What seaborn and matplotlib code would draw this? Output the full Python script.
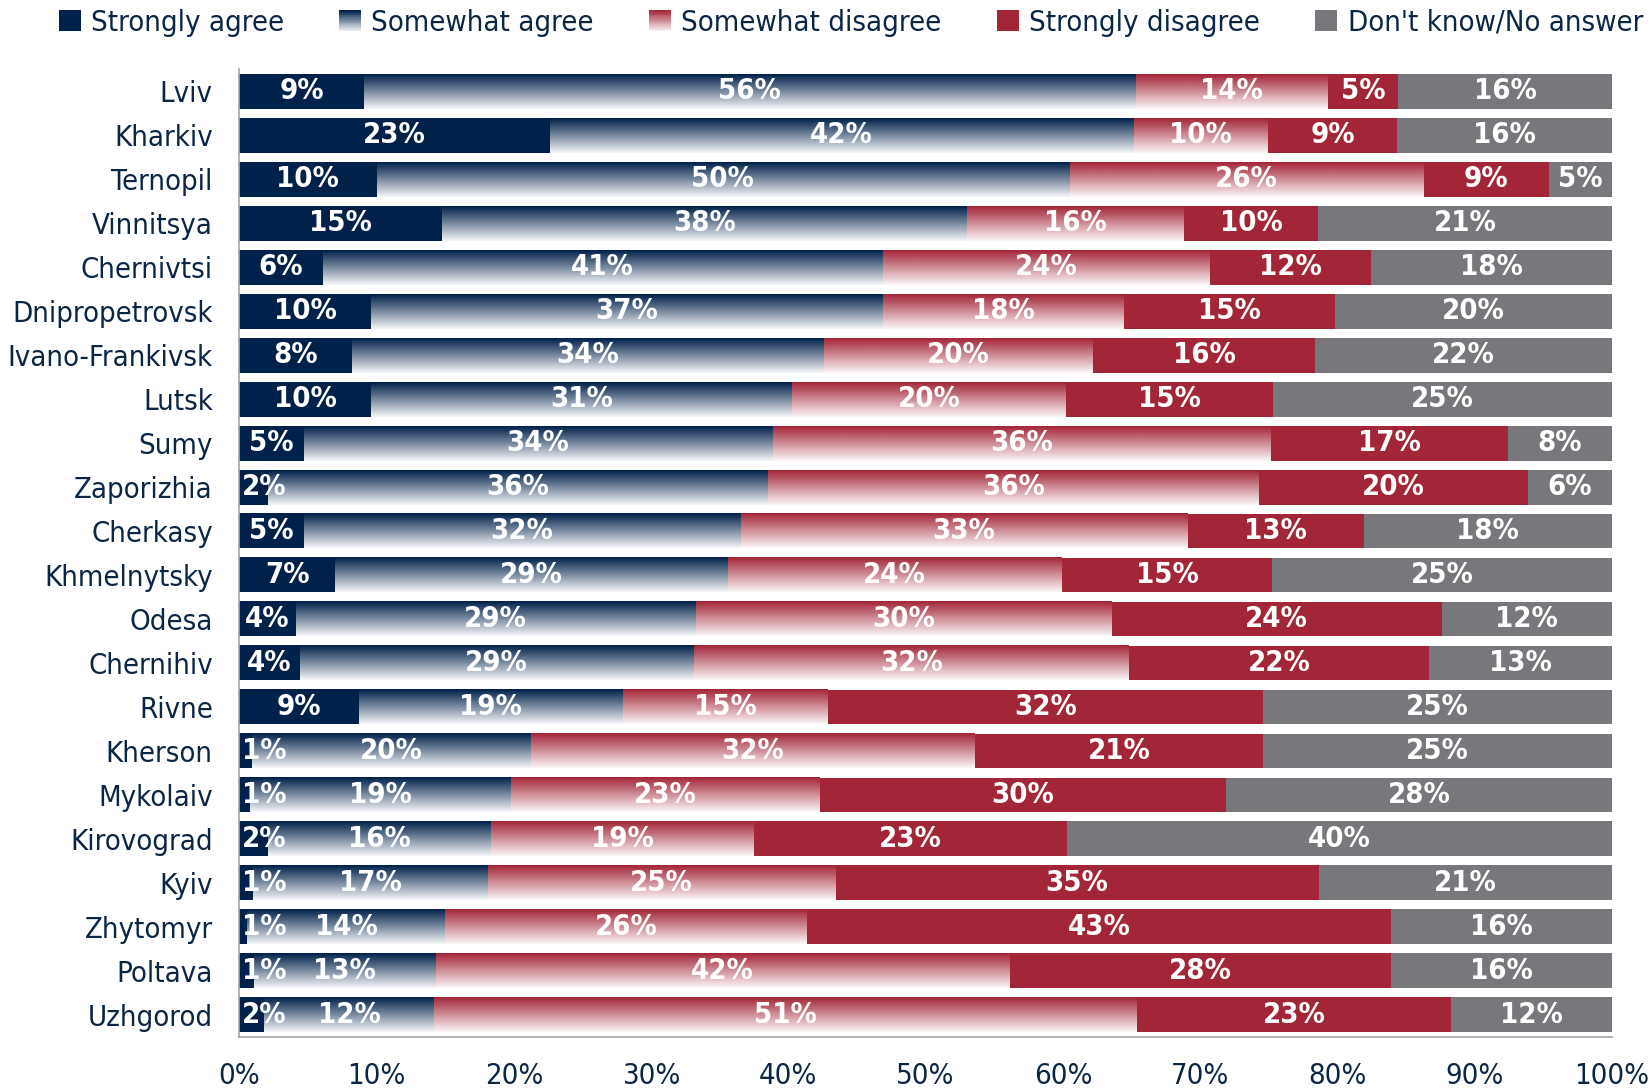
import numpy as np
import matplotlib
matplotlib.use('Agg')
import matplotlib.pyplot as plt
import seaborn as sns
from matplotlib.patches import Rectangle, Patch
from matplotlib.legend_handler import HandlerBase
from matplotlib.colors import to_rgb

# ---- data (share of respondents, %) ----
cities = ['Lviv', 'Kharkiv', 'Ternopil', 'Vinnitsya', 'Chernivtsi', 'Dnipropetrovsk',
          'Ivano-Frankivsk', 'Lutsk', 'Sumy', 'Zaporizhia', 'Cherkasy', 'Khmelnytsky',
          'Odesa', 'Chernihiv', 'Rivne', 'Kherson', 'Mykolaiv', 'Kirovograd', 'Kyiv',
          'Zhytomyr', 'Poltava', 'Uzhgorod']
strongly_agree = [9.1, 22.6, 10.0, 14.8, 6.1, 9.6, 8.2, 9.6, 4.7, 2.1, 4.7, 7.0,
                  4.1, 4.4, 8.7, 0.9, 0.8, 2.1, 1.0, 0.6, 1.1, 1.8]
somewhat_agree = [56.2, 42.4, 50.4, 38.2, 40.8, 37.3, 34.4, 30.7, 34.2, 36.4, 31.8, 28.6,
                  29.1, 28.7, 19.2, 20.3, 19.0, 16.2, 17.1, 14.4, 13.2, 12.4]
somewhat_disagree = [14.0, 9.8, 25.8, 15.8, 23.9, 17.6, 19.6, 20.0, 36.3, 35.8, 32.6, 24.4,
                     30.3, 31.7, 15.0, 32.4, 22.6, 19.2, 25.4, 26.4, 41.8, 51.2]
strongly_disagree = [5.1, 9.4, 9.1, 9.8, 11.7, 15.4, 16.2, 15.1, 17.3, 19.6, 12.8, 15.3,
                     24.0, 21.9, 31.7, 21.0, 29.6, 22.8, 35.2, 42.6, 27.8, 22.9]
dont_know = [15.6, 15.6, 4.6, 21.4, 17.6, 20.2, 21.6, 24.7, 7.6, 6.1, 18.1, 24.8,
             12.4, 13.3, 25.4, 25.4, 28.2, 39.7, 21.4, 16.1, 16.1, 11.7]

series_names = ['Strongly agree', 'Somewhat agree', 'Somewhat disagree',
                'Strongly disagree', "Don't know/No answer"]
series_colors = ['#00214a', '#00214a', '#a32638', '#a32638', '#77787b']
gradient = [False, True, True, False, False]

TEXT = '#0b2545'
FS = 21

sns.set_style('white')
plt.rcParams['font.family'] = ['DejaVu Sans']
plt.rcParams['font.stretch'] = 'condensed'

values = np.array([strongly_agree, somewhat_agree, somewhat_disagree,
                   strongly_disagree, dont_know])
values = values / values.sum(axis=0) * 100
cum = np.cumsum(values, axis=0)


def grad_img(color, n=64):
    c = np.array(to_rgb(color))
    t = np.linspace(0, 0.96, n)[:, None]
    rgb = c * (1 - t) + np.ones(3) * t
    return rgb[:, None, :]


fig = plt.figure(figsize=(16.52, 10.91), dpi=100)
ax = fig.add_axes([0.1448, 0.0498, 0.831, 0.8865])

# stacked bars drawn as overlaid cumulative bars, right-most layer first
for k in range(4, -1, -1):
    n_before = len(ax.patches)
    sns.barplot(x=cum[k], y=cities, orient='h', color=series_colors[k],
                saturation=1, width=0.79, ax=ax)
    for p in ax.patches[n_before:]:
        p.set_zorder(2 * (5 - k))
        p.set_linewidth(0)
        if gradient[k]:
            p.set_facecolor('white')
            x0, y0 = p.get_x(), p.get_y()
            ax.imshow(grad_img(series_colors[k]), aspect='auto', origin='upper',
                      extent=(x0, x0 + p.get_width(), y0 + p.get_height(), y0),
                      zorder=2 * (5 - k) + 1, interpolation='bilinear')

# value labels
for k in range(5):
    for i in range(len(cities)):
        v = values[k, i]
        lab = f'{round(v)}%'
        if v < 3:
            ax.text(cum[k, i] - v + 0.2, i, lab, ha='left', va='center',
                    color='white', fontsize=FS, fontweight='bold', zorder=20)
        else:
            ax.text(cum[k, i] - v / 2, i, lab, ha='center', va='center',
                    color='white', fontsize=FS, fontweight='bold', zorder=20)

ax.set_xlim(0, 100)
ax.set_ylim(len(cities) - 0.5, -0.5)
ax.set_xticks(np.arange(0, 101, 10))
ax.set_xticklabels([f'{t}%' for t in range(0, 101, 10)])
ax.set_xlabel('')
ax.set_ylabel('')
ax.set_yticks(np.arange(-0.5, len(cities), 1), minor=True)
ax.tick_params(axis='y', which='major', length=0, pad=19, labelsize=FS, labelcolor=TEXT)
ax.tick_params(axis='y', which='minor', length=6.5, color='#a6a6a6', width=1.2, direction='out')
ax.tick_params(axis='x', length=7, color='#a6a6a6', width=1.2, direction='out',
               labelsize=FS, labelcolor=TEXT, pad=11)
sns.despine(ax=ax, top=True, right=True)
for s in ['left', 'bottom']:
    ax.spines[s].set_color('#a6a6a6')
    ax.spines[s].set_linewidth(1.2)
    ax.spines[s].set_zorder(30)


class GradHandler(HandlerBase):
    def create_artists(self, legend, orig_handle, xdescent, ydescent, width, height,
                       fontsize, trans):
        n = 24
        c = np.array(to_rgb(orig_handle.get_facecolor()))
        arts = []
        for j in range(n):
            t = j / (n - 1) * 0.95
            col = c * (1 - t) + t
            r = Rectangle((-xdescent, -ydescent + height * (1 - (j + 1) / n)), width,
                          height / n, facecolor=col, edgecolor='none', transform=trans)
            arts.append(r)
        return arts


handles = [Patch(facecolor=c, edgecolor='none') for c in series_colors]
handler_map = {handles[1]: GradHandler(), handles[2]: GradHandler()}
fig.legend(handles, series_names, loc='center', bbox_to_anchor=(0.515, 0.979),
           ncol=5, frameon=False, fontsize=FS, labelcolor=TEXT, handlelength=0.75,
           handleheight=0.75, handletextpad=0.35, columnspacing=1.9,
           handler_map=handler_map)

fig.savefig('out.png', dpi=100)
